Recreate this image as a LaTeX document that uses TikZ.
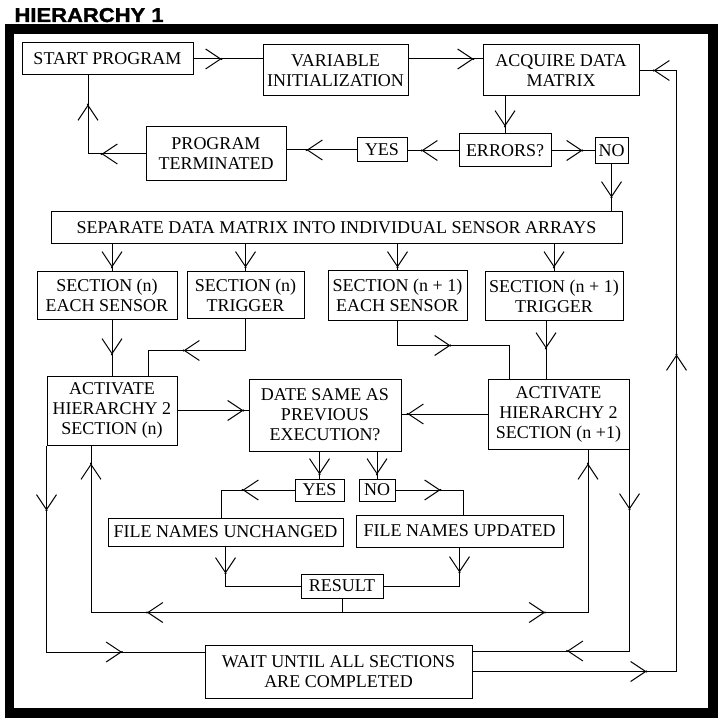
\documentclass[tikz,border=0pt]{standalone}
\usepackage{fontspec}
\setmainfont{Liberation Serif}
\newfontfamily\titlefont[FakeStretch=1.1,FakeBold=1.5]{Liberation Sans}
\usetikzlibrary{arrows.meta,decorations.markings}

\begin{document}
\begin{tikzpicture}[
		x=1pt, y=-1pt,
		line width=1pt,
		flownode/.style={rectangle, draw=black, align=center, inner sep=0pt, font=\fontsize{18}{20}\selectfont},
		barb/.tip={Straight Barb[length=15pt,width=20pt]},
		tips/.style={postaction={decorate,decoration={markings,mark=at position #1 with {\arrow{barb}\fill (0,0) circle (1.2pt);}}}}
	]
		\useasboundingbox (0,0) rectangle (720,719);
		\node[anchor=base west, inner sep=0pt, font=\titlefont\fontsize{20}{20}\selectfont\bfseries] (title) at (14,22) {HIERARCHY 1};
		\draw[line width=9.5pt] (9.5,29) rectangle (713,713);

		\node[flownode, minimum width=171pt, minimum height=32pt] (start) at (107.5,59) {START PROGRAM};
		\node[flownode, minimum width=145pt, minimum height=51pt] (var) at (335.5,70.5) {VARIABLE\\INITIALIZATION};
		\node[flownode, minimum width=156pt, minimum height=51pt] (acq) at (561,70.5) {ACQUIRE DATA\\MATRIX};
		\node[flownode, minimum width=92pt, minimum height=33pt] (err) at (505,150.5) {ERRORS?};
		\node[flownode, minimum width=50pt, minimum height=24pt] (yes1) at (382,150) {YES};
		\node[flownode, minimum width=33pt, minimum height=26pt] (no1) at (611.5,151) {NO};
		\node[flownode, minimum width=140pt, minimum height=54pt] (term) at (216,154) {PROGRAM\\TERMINATED};
		\node[flownode, minimum width=571pt, minimum height=32pt] (sep) at (336.5,228) {SEPARATE DATA MATRIX INTO INDIVIDUAL SENSOR ARRAYS};
		\node[flownode, minimum width=140pt, minimum height=47pt] (sn) at (107,295.5) {SECTION (n)\\EACH SENSOR};
		\node[flownode, minimum width=117pt, minimum height=46pt] (tn) at (245.5,295) {SECTION (n)\\TRIGGER};
		\node[flownode, minimum width=139pt, minimum height=49pt] (sn1) at (397.5,295.5) {SECTION (n + 1)\\EACH SENSOR};
		\node[flownode, minimum width=138pt, minimum height=48pt] (tn1) at (554,296) {SECTION (n + 1)\\TRIGGER};
		\node[flownode, minimum width=130pt, minimum height=69pt] (actn) at (112,410.5) {ACTIVATE\\HIERARCHY 2\\SECTION (n)};
		\node[flownode, minimum width=152pt, minimum height=72pt] (date) at (325,415) {DATE SAME AS\\PREVIOUS\\EXECUTION?};
		\node[flownode, minimum width=141pt, minimum height=70pt] (actn1) at (558.5,414) {ACTIVATE\\HIERARCHY 2\\SECTION (n +1)};
		\node[flownode, minimum width=49pt, minimum height=22pt] (yes2) at (319.5,490) {YES};
		\node[flownode, minimum width=36pt, minimum height=22pt] (no2) at (377,490) {NO};
		\node[flownode, minimum width=235pt, minimum height=28pt] (fnu) at (225.5,532) {FILE NAMES UNCHANGED};
		\node[flownode, minimum width=207pt, minimum height=32pt] (fnup) at (459.5,531) {FILE NAMES UPDATED};
		\node[flownode, minimum width=82pt, minimum height=24pt] (result) at (342,586) {RESULT};
		\node[flownode, minimum width=267pt, minimum height=53pt] (wait) at (338.5,671.5) {WAIT UNTIL ALL SECTIONS\\ARE COMPLETED};

		% start up
		\draw[tips=28pt] (start.east) -- (start.east -| var.west);
		\draw[tips=65pt] (var.east |- start.east) -- (start.east -| acq.west);
		\draw[tips=30pt] (err.north |- acq.south) -- (err.north);
		\draw[tips=37pt] (err.west) -- (err.west -| yes1.east);
		\draw[tips=31pt] (err.east) -- (err.east -| no1.west);
		\draw[tips=33pt] (no1.south) -- (no1.south |- sep.north);
		\draw[tips=50pt] (yes1.west) -- (yes1.west -| term.east);
		\draw[tips=44pt, tips=107pt] (term.west) -| ([xshift=-19.5pt]start.south);

		% sections
		\draw[tips=23pt] (sep.south -| actn.north) -- (actn.north |- sn.north);
		\draw[tips=23pt] (sep.south -| tn.north) -- (tn.north);
		\draw[tips=23pt] (sep.south -| sn1.north) -- (sn1.north);
		\draw[tips=23pt] (sep.south -| tn1.north) -- (tn1.north);
		\draw[tips=35pt] (actn.north |- sn.south) -- (actn.north);
		\draw[tips=94pt] (tn.south) -- ++(0,32) -| ([xshift=36pt]actn.north);
		\draw[tips=78pt] (sn1.south) -- ++(0,25) -| ([xshift=-49.5pt]actn1.north);
		\draw[tips=28pt] ([xshift=-8pt]tn1.south) -- ([xshift=-8pt]tn1.south |- actn1.north);
		\draw[tips=66pt] (actn.east) -- (actn.east -| date.west);
		\draw[tips=80pt] (actn1.west) -- (actn1.west -| date.east);

		% date check
		\draw[tips=23pt] (yes2.north |- date.south) -- (yes2.north);
		\draw[tips=23pt] (no2.north |- date.south) -- (no2.north);
		\draw[tips=52pt] (yes2.west) -| ([xshift=-4.5pt]fnu.north);
		\draw[tips=45pt] (no2.east) -| ([xshift=3.5pt]fnup.north);
		\draw[tips=27pt] (fnu.south) |- (result.west);
		\draw[tips=25pt] (fnup.south) |- (result.east);
		\draw[tips=209pt, tips=414pt] (result.south) -- ++(0,14) -| ([xshift=-21pt]actn.south);
		\draw[tips=217pt, tips=409pt] (result.south) -- ++(0,14) -| ([xshift=29.5pt]actn1.south);

		% wait and loop
		\draw[tips=65pt, tips=282pt] (actn.south west) |- ([yshift=19.5pt]wait.west);
		\draw[tips=60pt, tips=264pt] (actn1.south east) |- ([yshift=20.5pt]wait.east);
		\draw[tips=174pt, tips=521pt, tips=828pt] (wait.east) -- ++(204,0) |- (acq.east);
	\end{tikzpicture}
\end{document}
